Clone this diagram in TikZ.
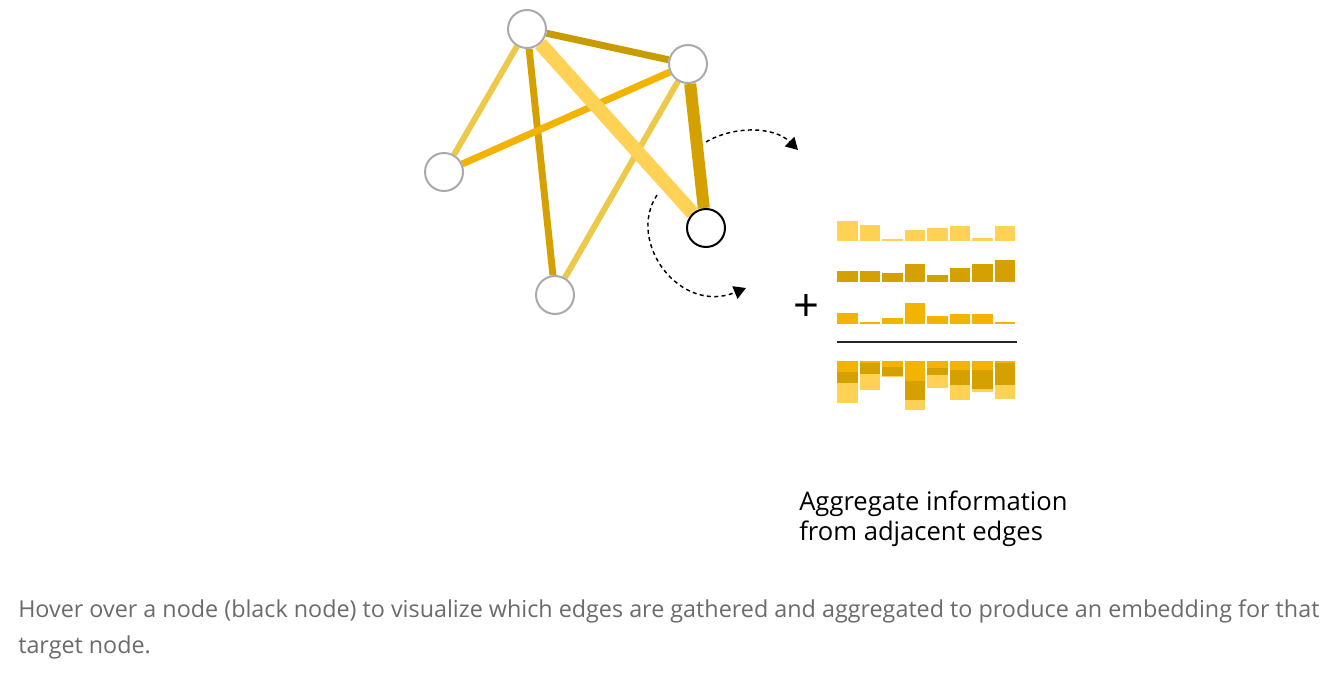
\documentclass[tikz,border=0pt]{standalone}
\usepackage{fontspec}
\setmainfont{Open Sans}
\usetikzlibrary{arrows.meta}
\definecolor{paleamber}{HTML}{FFD155}
\definecolor{softgold}{HTML}{EDC94A}
\definecolor{deepgold}{HTML}{D4A100}
\definecolor{olivegold}{HTML}{C89C00}
\definecolor{sunamber}{HTML}{F2B400}
\definecolor{ringgray}{HTML}{AAAAAA}
\definecolor{captiongray}{HTML}{6B6B6B}
\pgfdeclarelayer{edges}
\pgfsetlayers{edges,main}
\tikzset{
  gnode/.style={circle, draw=ringgray, fill=white, line width=1.5pt, minimum size=28.5pt, inner sep=0pt},
  tnode/.style={gnode, draw=black},
  edgeline/.style={line width=#1},
  gatherarr/.style={-{Triangle[length=9pt, width=10pt]}, line width=1.1pt, dash pattern=on 3pt off 2.5pt},
}

\begin{document}
\begin{tikzpicture}[x=0.75pt, y=-0.75pt,
    captext/.style={anchor=base west, align=left, text=captiongray, font=\fontsize{17.5}{27}\selectfont}]
  \useasboundingbox (0,0) rectangle (1325,682);

  % Graph nodes
  \node[gnode] (A) at (527,29) {};
  \node[gnode] (B) at (688,64) {};
  \node[gnode] (C) at (444,172) {};
  \node[gnode] (D) at (555,295) {};
  \node[tnode] (T) at (706,228) {};

  % Edges, under the nodes
  \begin{pgfonlayer}{edges}
    \fill[white] (0,0) rectangle (1325,682);
    \draw[edgeline=5.2pt, deepgold] (A) -- (D);
    \draw[edgeline=4.5pt, softgold] (A) -- (C);
    \draw[edgeline=5.2pt, olivegold] (A) -- (B);
    \draw[edgeline=5.2pt, sunamber] (B) -- (C);
    \draw[edgeline=4.5pt, softgold] (B) -- (D);
    \draw[edgeline=9pt, deepgold] (B) -- (T);
    \draw[edgeline=10.5pt, paleamber] (A) -- (T);
  \end{pgfonlayer}

  % Gathering arrows
  \coordinate (outS) at (706,142);
  \coordinate (outE) at (798,150);
  \coordinate (inS) at (657,195);
  \coordinate (inE) at (746,288);
  \draw[gatherarr] (outS) .. controls (735,125) and (775,127) .. (outE);
  \draw[gatherarr] (inS) .. controls (626,242) and (680,315) .. (inE);

  % Edge features and their sum
  \foreach \i/\hl/\hd/\hm in {0/20/11/11, 1/16.3/11/1.7, 2/1.7/9/5.7, 3/10.7/18.3/20.3,
                              4/12.7/7/7.3, 5/14.7/14.7/9.3, 6/3.3/18.3/9.3, 7/14.7/22/1.7} {
    \pgfmathsetmacro\xl{837.3+22.5*\i}
    \fill[paleamber] (\xl,241) rectangle ++(20.5,-\hl);
    \fill[deepgold] (\xl,282.3) rectangle ++(20.5,-\hd);
    \fill[sunamber] (\xl,323.7) rectangle ++(20.5,-\hm);
    \fill[sunamber] (\xl,361) rectangle ++(20.5,\hm);
    \fill[deepgold] (\xl,361+\hm) rectangle ++(20.5,\hd);
    \fill[paleamber] (\xl,361+\hm+\hd) rectangle ++(20.5,\hl);
  }
  \node[font=\fontsize{34}{34}\selectfont, inner sep=0pt] (plus) at (806.7,308) {+};
  \draw[line width=1.5pt, black!85] (837,342.3) -- (1017,342.3);

  % Labels
  \node[anchor=base west, align=left, inner sep=0pt, font=\fontsize{19.2}{22.5}\selectfont] (agg) at (799,540)
    {Aggregate information\\from adjacent edges};
  \node[captext, inner sep=0pt] (hint) at (18,653)
    {Hover over a node (black node) to visualize which edges are gathered and aggregated to produce an embedding for that\\target node.};
\end{tikzpicture}
\end{document}
